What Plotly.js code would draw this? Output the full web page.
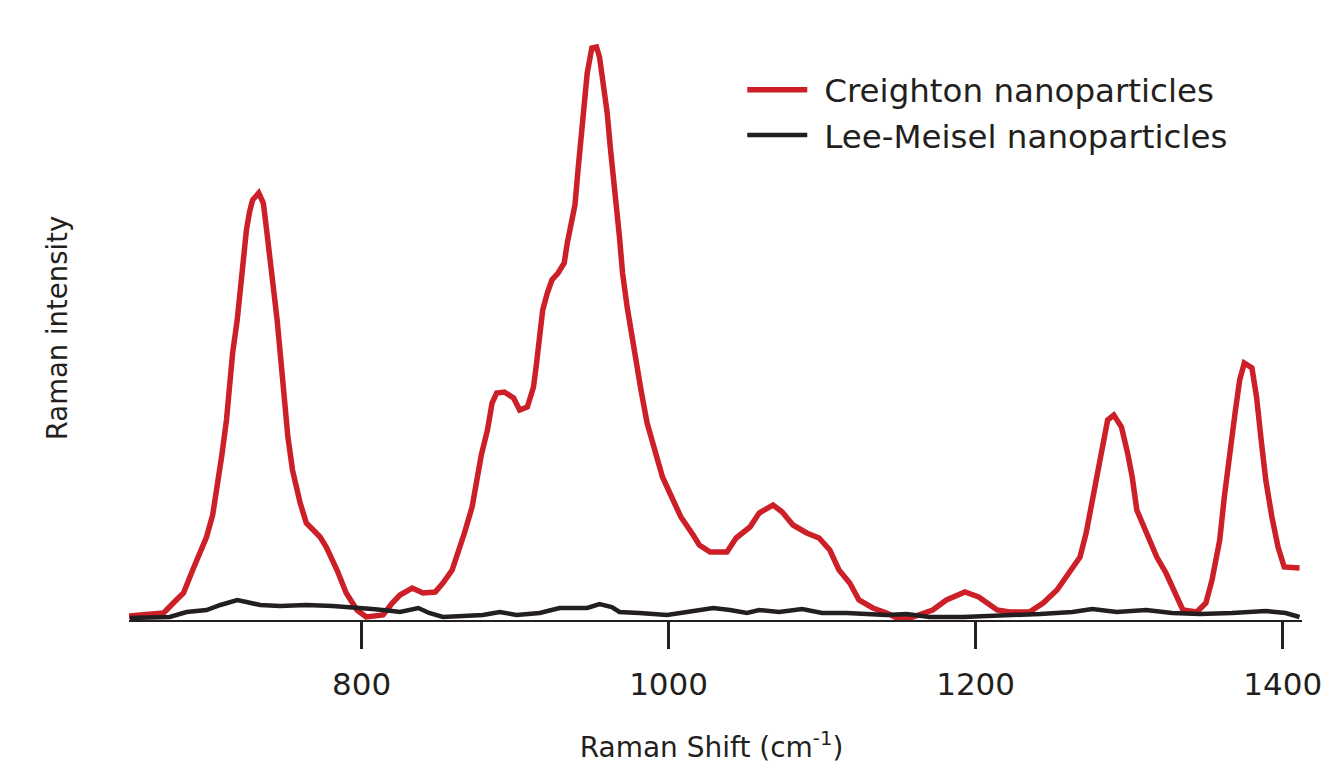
<!DOCTYPE html>
<html>
<head>
<meta charset="utf-8">
<script src="https://cdn.plot.ly/plotly-3.0.1.min.js"></script>
<style>
  html, body { margin: 0; padding: 0; background: #ffffff; }
  #chart { width: 1321px; height: 764px; }
</style>
</head>
<body>
<div id="chart"></div>
<script>
// Raman shift (cm^-1) and intensity (arbitrary units)
const creightonShift = [648, 662, 671, 678, 684, 690, 695, 699, 703, 706, 709, 712, 714, 716, 719, 721, 723, 725, 727, 729,
  733, 736, 738, 740, 743, 745, 747, 749, 751, 752, 755, 760, 764, 773, 777, 784, 790, 797, 803, 814,
  820, 825, 833, 840, 848, 853, 859, 863, 867, 872, 876, 878, 882, 885, 888, 893, 899, 903, 908, 912,
  914, 916, 918, 921, 924, 928, 932, 934, 938, 939, 941, 943, 945, 947, 950, 953, 955, 957, 960, 962,
  964, 966, 968, 970, 973, 976, 979, 982, 986, 991, 996, 1002, 1008, 1016, 1020, 1027, 1038, 1044, 1053, 1059,
  1068, 1074, 1081, 1090, 1098, 1105, 1111, 1118, 1124, 1133, 1142, 1150, 1159, 1172, 1181, 1193, 1202, 1214, 1222, 1235,
  1244, 1253, 1261, 1268, 1272, 1276, 1279, 1283, 1286, 1290, 1295, 1299, 1302, 1305, 1311, 1318, 1324, 1330, 1335, 1344,
  1350, 1354, 1359, 1362, 1365, 1369, 1372, 1375, 1380, 1383, 1386, 1389, 1393, 1397, 1401, 1406, 1411];
const creightonIntensity = [4, 6, 7, 18, 27, 50, 67, 83, 105, 133, 165, 200, 235, 267, 300, 333, 365, 390, 408, 420,
  427, 417, 392, 367, 333, 300, 267, 233, 205, 183, 150, 117, 97, 83, 73, 50, 27, 10, 3, 5,
  17, 25, 32, 27, 28, 37, 50, 67, 87, 113, 147, 165, 190, 217, 227, 228, 222, 210, 213, 233,
  257, 290, 310, 327, 340, 347, 357, 377, 403, 415, 450, 485, 520, 547, 572, 573, 563, 540, 507, 473,
  447, 413, 383, 347, 313, 283, 257, 230, 197, 170, 143, 123, 103, 85, 75, 68, 68, 82, 93, 107,
  115, 108, 95, 87, 82, 70, 50, 37, 20, 12, 7, 1, 3, 10, 20, 28, 23, 10, 8, 8,
  17, 30, 47, 63, 87, 120, 147, 173, 200, 205, 193, 167, 143, 110, 87, 63, 47, 27, 10, 8,
  17, 40, 80, 123, 163, 207, 240, 257, 252, 223, 180, 140, 103, 73, 53, 52, 52];

const leeMeiselShift = [649, 675, 686, 699, 708, 714, 719, 725, 734, 747, 764, 781, 794, 807, 820, 825, 837, 844, 853, 879,
  890, 901, 916, 929, 947, 955, 963, 968, 981, 999, 1012, 1020, 1029, 1040, 1051, 1059, 1072, 1087, 1100, 1116,
  1129, 1142, 1155, 1170, 1192, 1216, 1242, 1263, 1276, 1292, 1311, 1328, 1346, 1367, 1389, 1402, 1411];
const leeMeiselIntensity = [2, 3, 8, 10, 15, 18, 20, 18, 15, 14, 15, 14, 13, 11, 9, 8, 12, 7, 3, 5,
  8, 5, 7, 12, 12, 16, 13, 8, 7, 5, 8, 10, 12, 10, 7, 10, 8, 11, 7, 7,
  6, 5, 6, 3, 3, 4, 6, 8, 11, 8, 10, 7, 6, 7, 9, 7, 3];

const seriesNames = ['Creighton nanoparticles', 'Lee-Meisel nanoparticles'];
const xTickValues = [800, 1000, 1200, 1400];
const xTickLabels = ['800', '1000', '1200', '1400'];

const ink = '#231F20';
const font = 'DejaVu Sans, Liberation Sans, Arial, sans-serif';

const traces = [
  {
    x: creightonShift, y: creightonIntensity, name: seriesNames[0],
    type: 'scatter', mode: 'lines',
    line: { color: '#CC1F27', width: 5.5 }
  },
  {
    x: leeMeiselShift, y: leeMeiselIntensity, name: seriesNames[1],
    type: 'scatter', mode: 'lines',
    line: { color: ink, width: 4.5 }
  }
];

const layout = {
  width: 1321, height: 764,
  margin: { l: 129, r: 19, t: 20, b: 144, pad: 0 },
  paper_bgcolor: '#ffffff', plot_bgcolor: '#ffffff',
  font: { family: font, color: ink },
  showlegend: true,
  legend: {
    x: 0.516, y: 0.93, xanchor: 'left', yanchor: 'top',
    bgcolor: 'rgba(0,0,0,0)', borderwidth: 0,
    font: { family: font, size: 32.5, color: ink },
    itemwidth: 80, tracegroupgap: 0
  },
  xaxis: {
    range: [648.5, 1412.6],
    tickmode: 'array', tickvals: xTickValues, ticktext: xTickLabels,
    ticks: 'outside', ticklen: 27, tickwidth: 2.5, tickcolor: ink,
    ticklabelstandoff: 9, ticklabeloverflow: 'allow',
    showline: true, linecolor: ink, linewidth: 2,
    showgrid: false, zeroline: false,
    tickfont: { family: font, size: 31, color: ink },
    automargin: false,
    title: { text: 'Raman Shift (cm<sup>-1</sup>)', font: { family: font, size: 28, color: ink }, standoff: 40 }
  },
  yaxis: {
    range: [0, 600],
    showticklabels: false, ticks: '', showline: false, showgrid: false, zeroline: false,
    automargin: false,
    title: { text: 'Raman intensity', font: { family: font, size: 27.5, color: ink }, standoff: 52 }
  }
};

Plotly.newPlot('chart', traces, layout, { staticPlot: true, displayModeBar: false }).then(function (gd) {
  // lengthen the legend line samples to match the reference (60 px, 17 px before the text)
  const items = gd.querySelectorAll('.legend .traces');
  items.forEach(function (item) {
    const path = item.querySelector('.legendlines path');
    const text = item.querySelector('text.legendtext');
    if (!path || !text) return;
    const pr = path.getBoundingClientRect();
    const tr = text.getBoundingClientRect();
    const m = /M\s*([-\d.]+)\s*,\s*([-\d.]+)/.exec(path.getAttribute('d'));
    if (!m) return;
    const a = parseFloat(m[1]);
    const shift = (tr.left - 77) - pr.left;
    path.setAttribute('d', 'M' + (a + shift) + ',' + m[2] + 'h60');
  });
  // the reference's y title sits a few pixels below the plot's vertical centre
  const ytitle = gd.querySelector('.ytitle');
  if (ytitle) {
    const t = ytitle.getAttribute('transform') || '';
    ytitle.setAttribute('transform', 'translate(0,8) ' + t);
  }
  // the reference's x title sits slightly left of the plot centre
  const xtitle = gd.querySelector('.xtitle');
  if (xtitle) {
    const t = xtitle.getAttribute('transform') || '';
    xtitle.setAttribute('transform', 'translate(-4,0) ' + t);
  }
});
</script>
</body>
</html>
